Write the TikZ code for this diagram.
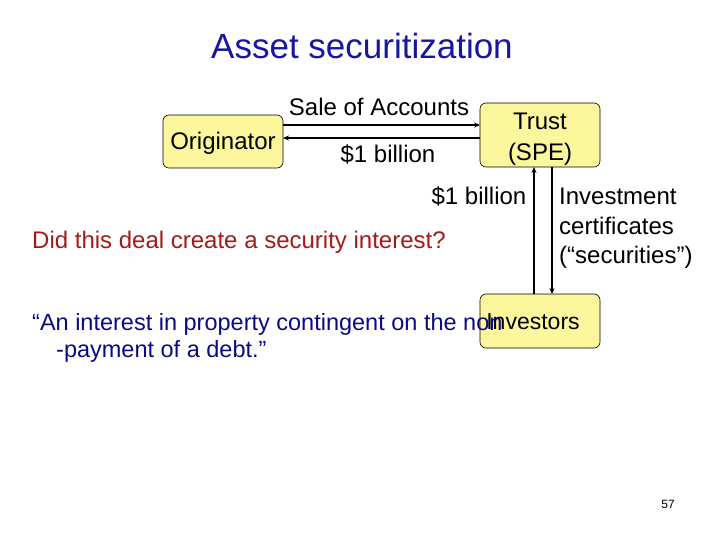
\documentclass[tikz,border=0pt]{standalone}
\usepackage{fontspec}
\setmainfont{Liberation Sans}
\usetikzlibrary{arrows.meta}
\definecolor{boxfill}{RGB}{252,246,156}
\definecolor{titleblue}{RGB}{22,22,160}
\definecolor{qred}{RGB}{165,25,25}
\definecolor{qnavy}{RGB}{10,10,130}
\tikzset{
  ybox/.style={draw=black, fill=boxfill, rounded corners=6pt, line width=0.6pt},
  lbl/.style={font=\fontsize{24}{29}\selectfont, inner sep=0pt, anchor=base},
  conn/.style={line width=1.2pt, -{Stealth[length=6pt,width=5pt]}}
}
\begin{document}
\begin{tikzpicture}[x=1pt,y=-1pt]
\useasboundingbox (0,0) rectangle (720,540);
% boxes
\draw[ybox] (163,115) rectangle (283,168);
\node (orig) at (223,141.5) [minimum width=120pt, minimum height=53pt, inner sep=0pt] {};
\draw[ybox] (480,103) rectangle (600,167);
\node (trust) at (540,135) [minimum width=120pt, minimum height=64pt, inner sep=0pt] {};
\draw[ybox] (480,294) rectangle (600,348);
\node (inv) at (540,321) [minimum width=120pt, minimum height=54pt, inner sep=0pt] {};
% title
\node[lbl, font=\fontsize{35}{40}\selectfont, text=titleblue] (title) at (362,59) {Asset securitization};
% box texts
\node[lbl] (origt) at (223,150) {Originator};
\node[lbl] (trust1) at (540,130) {Trust};
\node[lbl] (trust2) at (540,161) {(SPE)};
\node[lbl, font=\fontsize{23}{28}\selectfont] (invt) at (533,329) {Investors};
% connectors
\coordinate (o1) at (283,125);
\coordinate (t1) at (480,125);
\coordinate (o2) at (283,138);
\coordinate (t2) at (480,138);
\draw[conn] (o1) -- (t1);
\draw[conn] (t2) -- (o2);
\coordinate (iL) at (534,294);
\coordinate (tL) at (534,167);
\coordinate (iR) at (552,294);
\coordinate (tR) at (552,167);
\draw[conn] (iL) -- (tL);
\draw[conn] (tR) -- (iR);
% labels
\node[lbl] (sale) at (379,116) {Sale of Accounts};
\node[lbl] (bill1) at (388,163) {\$1 billion};
\node[lbl] (bill2) at (479,205) {\$1 billion};
\node[lbl, anchor=base west] (im1) at (559,205) {Investment};
\node[lbl, anchor=base west] (im2) at (559,234) {certificates};
\node[lbl, anchor=base west] (im3) at (559,263) {(“securities”)};
\node[lbl, anchor=base west, text=qred] (q) at (32,248) {Did this deal create a security interest?};
\node[lbl, anchor=base west, text=qnavy, font=\fontsize{23.5}{28}\selectfont] (def1) at (32,330) {“An interest in property contingent on the non};
\node[lbl, anchor=base west, text=qnavy, font=\fontsize{23.5}{28}\selectfont] (def2) at (56,357) {-payment of a debt.”};
\node[lbl, font=\fontsize{12}{14}\selectfont] (pg) at (668,508) {57};
\end{tikzpicture}
\end{document}
